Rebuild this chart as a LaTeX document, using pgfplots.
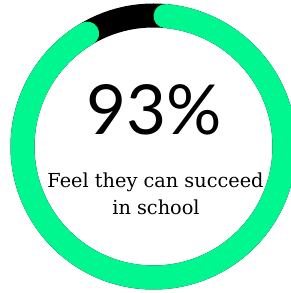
\documentclass[border=0pt]{standalone}
\usepackage{pgfplots}
\pgfplotsset{compat=1.18}
\usepackage{pgfplotstable}
\usepackage{fontspec}
\newfontfamily\bigfont{Lato}
\newfontfamily\subfont{DejaVu Serif}
\definecolor{ringgreen}{RGB}{0,246,143}
\pgfplotstableread{
label value
Yes 93
No 7
}\ringdata
\pgfplotstablegetelem{0}{value}\of\ringdata
\let\pctvalue\pgfplotsretval
\pgfmathsetmacro{\capdeg}{12/131*180/pi}
\pgfmathsetmacro{\startang}{90-\capdeg}
\pgfmathsetmacro{\endang}{90-3.6*\pctvalue+\capdeg}
\begin{document}
\begin{tikzpicture}
\begin{axis}[
  at={(0,0)}, anchor=origin,
  scale only axis, width=291bp, height=293bp,
  xmin=0, xmax=291, ymin=0, ymax=293,
  hide axis, clip=true,
]
\addplot[draw=none, forget plot] coordinates {(0,0) (291,293)};
\draw[black, line width=24bp] (axis cs:153.5,146.5) circle[radius=131bp];
\draw[ringgreen, line width=24bp, line cap=round]
  (axis cs:153.5,146.5) ++(\startang:131bp) arc[start angle=\startang, end angle=\endang, radius=131bp];
\node[anchor=base, inner sep=0pt] at (axis cs:154.5,158) {\bigfont\fontsize{69bp}{69bp}\selectfont \pctvalue\%};
\node[anchor=base, inner sep=0pt] at (axis cs:155.5,105) {\subfont\fontsize{19.3bp}{19.3bp}\selectfont Feel they can succeed};
\node[anchor=base, inner sep=0pt] at (axis cs:156,78) {\subfont\fontsize{19.3bp}{19.3bp}\selectfont in school};
\end{axis}
\end{tikzpicture}
\end{document}
